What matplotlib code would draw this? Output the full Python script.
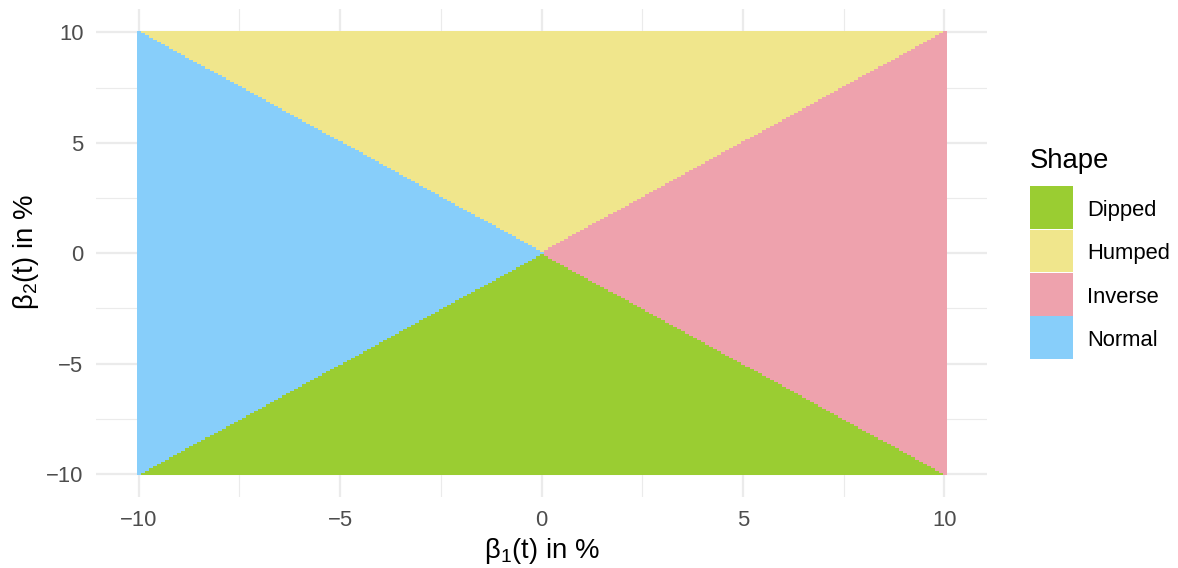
import numpy as np
import matplotlib
matplotlib.use("Agg")
import matplotlib.pyplot as plt
from matplotlib.colors import ListedColormap
from matplotlib.patches import Rectangle

plt.rcParams['font.family'] = ['Liberation Sans', 'DejaVu Sans']
plt.rcParams['mathtext.fontset'] = 'custom'
plt.rcParams['mathtext.rm'] = 'Liberation Sans'
plt.rcParams['mathtext.it'] = 'Liberation Sans:italic'
plt.rcParams['mathtext.bf'] = 'Liberation Sans:bold'

# ---- data ----
beta1_grid = np.round(np.arange(-100, 101) / 10.0, 1)   # beta1(t) in %, step 0.1
beta2_grid = np.round(np.arange(-100, 101) / 10.0, 1)   # beta2(t) in %, step 0.1
shapes = ["Dipped", "Humped", "Inverse", "Normal"]
shape_colors = ["#9ACD32", "#F0E68C", "#EEA2AD", "#87CEFA"]
major_ticks = [-10, -5, 0, 5, 10]
minor_ticks = [-7.5, -2.5, 2.5, 7.5]

# classify each grid cell
B1, B2 = np.meshgrid(beta1_grid, beta2_grid)
cls = np.empty(B1.shape, dtype=int)
cls[:] = 3
cls[(B1 > 0)] = 2
cls[B2 > np.abs(B1)] = 1
cls[B2 < -np.abs(B1)] = 0

W, H = 1178, 568
fig = plt.figure(figsize=(W / 100, H / 100), dpi=100)
ax = fig.add_axes([96 / W, (H - 497.3) / H, (987 - 96) / W, (497.3 - 9) / H])

step = 0.1
ext = (beta1_grid[0] - step / 2, beta1_grid[-1] + step / 2,
       beta2_grid[0] - step / 2, beta2_grid[-1] + step / 2)
ax.imshow(cls, cmap=ListedColormap(shape_colors), vmin=-0.5, vmax=3.5,
          origin='lower', extent=ext, interpolation='nearest', aspect='auto', zorder=2)

rng = ext[1] - ext[0]
ax.set_xlim(ext[0] - 0.05 * rng, ext[1] + 0.05 * rng)
rng = ext[3] - ext[2]
ax.set_ylim(ext[2] - 0.05 * rng, ext[3] + 0.05 * rng)

for v in major_ticks:
    ax.axvline(v, color='#EBEBEB', lw=1.6, zorder=1)
    ax.axhline(v, color='#EBEBEB', lw=1.6, zorder=1)
for v in minor_ticks:
    ax.axvline(v, color='#EBEBEB', lw=0.8, zorder=1)
    ax.axhline(v, color='#EBEBEB', lw=0.8, zorder=1)

for s in ax.spines.values():
    s.set_visible(False)
ax.set_xticks(major_ticks)
ax.set_yticks(major_ticks)
ax.tick_params(length=0, labelsize=15.8, labelcolor='#4D4D4D', pad=9)

fig.text(541.5 / W, 1 - 551 / H, r"β$_1$(t) in %", fontsize=19.8, ha='center', va='center')
fig.text(26 / W, 1 - 252 / H, r"β$_2$(t) in %", fontsize=19.8, ha='center', va='center',
         rotation=90)

# legend
fig.text(1030 / W, 1 - 161 / H, "Shape", fontsize=19.8, ha='left', va='center')
key_top = 186
key_h = 43.5
for i, (name, col) in enumerate(zip(shapes, shape_colors)):
    y0 = key_top + i * key_h
    fig.patches.append(Rectangle((1030 / W, 1 - (y0 + key_h - 0.8) / H), 43 / W, (key_h - 0.8) / H,
                                 transform=fig.transFigure, facecolor=col, edgecolor='none'))
    fig.text(1087 / W, 1 - (y0 + key_h / 2 + 2.5) / H, name, fontsize=15.8, ha='left', va='center')

fig.savefig("out.png", dpi=100)
